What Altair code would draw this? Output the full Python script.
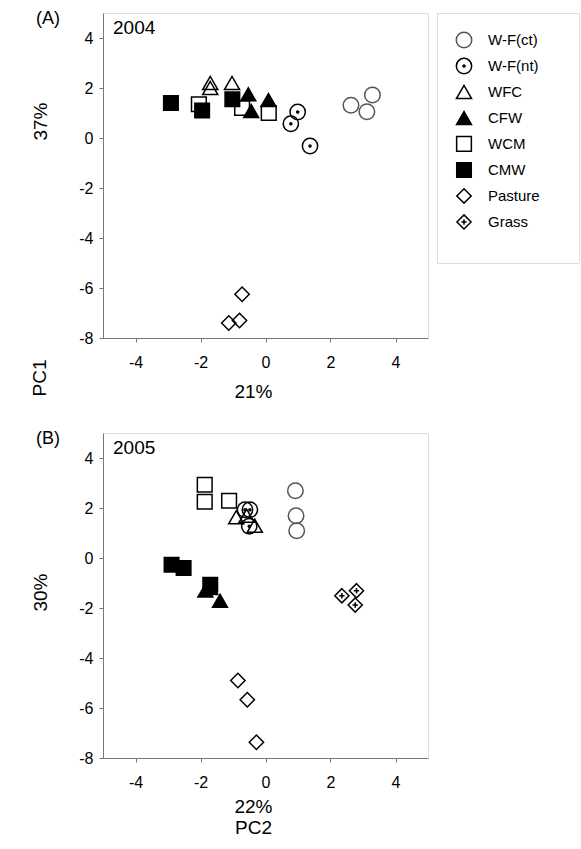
import altair as alt
import pandas as pd

FONT = "Liberation Sans"

# ---- groups (order used for drawing and for the key) ----
GROUPS = ["W-F(ct)", "W-F(nt)", "WFC", "CFW", "WCM", "CMW", "Pasture", "Grass"]

# ---- 2004 scores (PC2 on x, PC1 on y) ----
wfct_04_x = [2.63, 3.29, 3.12]
wfct_04_y = [1.31, 1.72, 1.05]
wfnt_04_x = [0.99, 0.78, 1.37]
wfnt_04_y = [1.04, 0.57, -0.32]
wfc_04_x = [-1.70, -1.70, -1.03]
wfc_04_y = [2.20, 2.00, 2.20]
cfw_04_x = [-0.53, -0.44, 0.09]
cfw_04_y = [1.75, 1.08, 1.52]
wcm_04_x = [-2.05, -0.72, 0.10]
wcm_04_y = [1.35, 1.20, 1.00]
cmw_04_x = [-2.91, -1.95, -1.02]
cmw_04_y = [1.40, 1.10, 1.55]
pasture_04_x = [-0.72, -0.80, -1.13]
pasture_04_y = [-6.25, -7.30, -7.40]

# ---- 2005 scores ----
wfct_05_x = [0.92, 0.94, 0.96]
wfct_05_y = [2.69, 1.69, 1.09]
wfnt_05_x = [-0.63, -0.48, -0.50]
wfnt_05_y = [1.93, 1.93, 1.27]
wfc_05_x = [-0.90, -0.58, -0.33]
wfc_05_y = [1.63, 1.69, 1.29]
cfw_05_x = [-1.85, -1.70, -1.40]
cfw_05_y = [-1.30, -1.20, -1.71]
wcm_05_x = [-1.87, -1.87, -1.12]
wcm_05_y = [2.93, 2.25, 2.29]
cmw_05_x = [-2.89, -2.52, -1.70]
cmw_05_y = [-0.27, -0.40, -1.07]
pasture_05_x = [-0.85, -0.56, -0.28]
pasture_05_y = [-4.90, -5.67, -7.37]
grass_05_x = [2.35, 2.80, 2.76]
grass_05_y = [-1.51, -1.31, -1.88]

X_TICKS = [-4, -2, 0, 2, 4]
Y_TICKS = [-8, -6, -4, -2, 0, 2, 4]


def frame(pairs):
    rows = []
    for g, xs, ys in pairs:
        for x, y in zip(xs, ys):
            rows.append({"group": g, "x": x, "y": y})
    return pd.DataFrame(rows)


df04 = frame([
    ("W-F(ct)", wfct_04_x, wfct_04_y),
    ("W-F(nt)", wfnt_04_x, wfnt_04_y),
    ("WFC", wfc_04_x, wfc_04_y),
    ("WCM", wcm_04_x, wcm_04_y),
    ("CFW", cfw_04_x, cfw_04_y),
    ("CMW", cmw_04_x, cmw_04_y),
    ("Pasture", pasture_04_x, pasture_04_y),
])
df05 = frame([
    ("W-F(ct)", wfct_05_x, wfct_05_y),
    ("WCM", wcm_05_x, wcm_05_y),
    ("W-F(nt)", wfnt_05_x, wfnt_05_y),
    ("WFC", wfc_05_x, wfc_05_y),
    ("CMW", cmw_05_x, cmw_05_y),
    ("CFW", cfw_05_x, cfw_05_y),
    ("Pasture", pasture_05_x, pasture_05_y),
    ("Grass", grass_05_x, grass_05_y),
])

# ---- symbol styling per group ----
RING_DOT = ("M-1,0A1,1 0 1,0 1,0A1,1 0 1,0 -1,0Z"
            "M-0.13,0A0.13,0.13 0 1,0 0.13,0A0.13,0.13 0 1,0 -0.13,0Z")
DIAMOND = "M0,-1L1,0L0,1L-1,0Z"
DIAMOND_PLUS = DIAMOND + "M-0.38,0L0.38,0M0,-0.38L0,0.38"
SHAPES = ["circle", RING_DOT, "triangle-up", "triangle-up", "square", "square", DIAMOND, DIAMOND_PLUS]
FILLS = ["transparent", "transparent", "transparent", "black", "transparent", "black", "transparent", "transparent"]
STROKES = ["#555555", "black", "black", "black", "black", "black", "black", "black"]
SIZES = [240, 200, 200, 200, 160, 160, 256, 256]


def symbol_channels():
    return dict(
        shape=alt.Shape("group:N", scale=alt.Scale(domain=GROUPS, range=SHAPES), legend=None),
        fill=alt.Fill("group:N", scale=alt.Scale(domain=GROUPS, range=FILLS), legend=None),
        stroke=alt.Stroke("group:N", scale=alt.Scale(domain=GROUPS, range=STROKES), legend=None),
        size=alt.Size("group:N", scale=alt.Scale(domain=GROUPS, range=SIZES), legend=None),
    )


AXIS_STYLE = dict(
    domainColor="#777777", tickColor="#777777", tickSize=4,
    labelFont=FONT, labelFontSize=16, labelColor="black",
    labelExpr="'' + datum.value",
    titleFont=FONT, titleFontSize=19, titleFontWeight="normal", titleColor="black",
    grid=False,
)


def panel(df, year, tag, xtitle, xtitle_y, ytitle, ytitle_y, extra_ylabel=None):
    pts = alt.Chart(df).mark_point(strokeWidth=1.5, opacity=1).encode(
        x=alt.X("x:Q", scale=alt.Scale(domain=[-5, 5], nice=False, zero=False),
                axis=alt.Axis(values=X_TICKS, title=xtitle, labelPadding=12,
                              titleX=150, titleY=xtitle_y, titleBaseline="top",
                              titleLineHeight=21, **AXIS_STYLE)),
        y=alt.Y("y:Q", scale=alt.Scale(domain=[-8, 5], nice=False, zero=False),
                axis=alt.Axis(values=Y_TICKS, title=ytitle, labelPadding=6,
                              titleX=-63, titleY=ytitle_y, titleAngle=270,
                              titleAlign="center", titleBaseline="middle", **AXIS_STYLE)),
        **symbol_channels(),
    )
    year_txt = alt.Chart(pd.DataFrame({"t": [year]})).mark_text(
        font=FONT, fontSize=19, align="left", baseline="top", color="black"
    ).encode(text="t:N", x=alt.value(10), y=alt.value(6))
    tag_txt = alt.Chart(pd.DataFrame({"t": [tag]})).mark_text(
        font=FONT, fontSize=18, align="center", baseline="middle", color="black"
    ).encode(text="t:N", x=alt.value(-55), y=alt.value(6))
    layers = [pts, year_txt, tag_txt]
    if extra_ylabel:
        lab = alt.Chart(pd.DataFrame({"t": [extra_ylabel]})).mark_text(
            font=FONT, fontSize=19, align="center", baseline="middle", angle=270, color="black"
        ).encode(text="t:N", x=alt.value(-63), y=alt.value(365))
        layers.append(lab)
    return alt.layer(*layers).properties(width=325, height=325)


panel_a = panel(df04, "2004", "(A)", "21%", 44, "37%", 108, extra_ylabel="PC1")
panel_b = panel(df05, "2005", "(B)", ["22%", "PC2"], 39, "30%", 159)

# ---- symbol key ----
key_df = pd.DataFrame({"group": GROUPS, "row": list(range(len(GROUPS)))})
key_base = alt.Chart(key_df).encode(
    y=alt.Y("row:Q", scale=alt.Scale(domain=[-1.04, 8.58], reverse=True, nice=False, zero=False), axis=None)
)
key_sym = key_base.mark_point(strokeWidth=1.5, opacity=1).encode(x=alt.value(27), **symbol_channels())
key_lab = key_base.mark_text(font=FONT, fontSize=15, align="left", baseline="middle", color="black").encode(
    x=alt.value(51), text="group:N"
)
key = alt.layer(key_sym, key_lab).properties(width=142, height=250)

chart = alt.concat(
    panel_a, key, panel_b, columns=2, bounds="flush",
    spacing={"row": 95, "column": 9},
).properties(
    padding={"left": 30, "top": 9, "right": 0, "bottom": 5}
).configure_view(stroke="#666666", strokeWidth=1.2).configure(font=FONT, background="white")

chart.save("out.html", embed_options={"renderer": "svg", "actions": False})
